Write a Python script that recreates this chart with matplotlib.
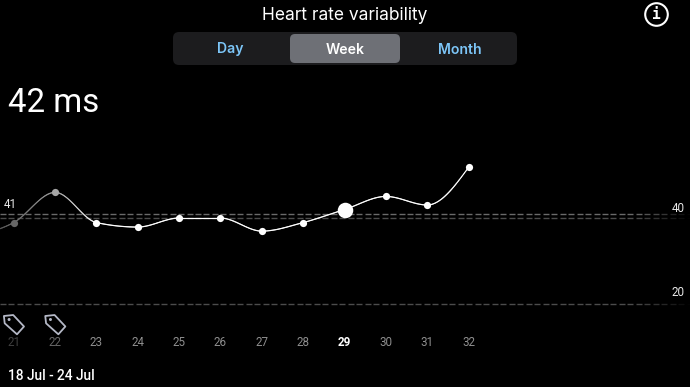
import numpy as np
import matplotlib
matplotlib.use("Agg")
import matplotlib.pyplot as plt
from matplotlib.collections import LineCollection
from matplotlib.patches import FancyBboxPatch, Circle, Polygon

# ---------- data ----------
days = [20, 21, 22, 23, 24, 25, 26, 27, 28, 29, 30, 31, 32]
hrv = [35.0, 38.1, 44.8, 38.1, 37.1, 39.1, 39.1, 36.2, 38.1, 41.0, 43.9, 42.0, 50.4]
tick_days = [21, 22, 23, 24, 25, 26, 27, 28, 29, 30, 31, 32]
tagged_days = [21, 22]
selected_day = 29
grid_values = [40, 20]
average_value = 39.1
tabs = ["Day", "Week", "Month"]
title = "Heart rate variability"
headline = "42 ms"
date_range = "18 Jul - 24 Jul"
first_label = "41"

W, H = 690, 387
PX_DAY = 41.36
PX_UNIT = 4.5
X0 = 13.7
Y40 = 214

fig = plt.figure(figsize=(W / 100, H / 100), dpi=100, facecolor="black")

ax = fig.add_axes([0, 0, 1, 1], facecolor="black")
ax.set_xlim(21 - X0 / PX_DAY, 21 + (W - X0) / PX_DAY)
ax.set_ylim(40 - (H - Y40) / PX_UNIT, 40 + Y40 / PX_UNIT)
ax.axis("off")

ui = fig.add_axes([0, 0, 1, 1], facecolor="none")
ui.set_xlim(0, W)
ui.set_ylim(H, 0)
ui.axis("off")

font = ["Inter", "DejaVu Sans"]
din = ["Roboto", "DejaVu Sans"]


def fade_dashes(y, base, dash=0.145, gap=0.06):
    xmin, xmax = ax.get_xlim()
    starts = np.arange(xmin, xmax, dash + gap)
    segs = [[(s, y), (s + dash, y)] for s in starts]
    cols = [(1, 1, 1, base * np.clip((xmax - s) / 1.4, 0, 1)) for s in starts]
    ax.add_collection(LineCollection(segs, colors=cols, linewidths=1.0, zorder=1))


fade_dashes(grid_values[0], 0.42)
fade_dashes(average_value, 0.30)
fade_dashes(grid_values[1], 0.30)


# monotone cubic curve through the points
def monotone(x, y, n=40):
    x, y = np.asarray(x, float), np.asarray(y, float)
    h = np.diff(x)
    s = np.diff(y) / h
    t = np.zeros_like(y)
    for i in range(1, len(y) - 1):
        p = (s[i - 1] * h[i] + s[i] * h[i - 1]) / (h[i - 1] + h[i])
        t[i] = (np.sign(s[i - 1]) + np.sign(s[i])) * min(abs(s[i - 1]), abs(s[i]), 0.5 * abs(p))
    t[0] = (3 * s[0] - t[1]) / 2
    t[-1] = (3 * s[-1] - t[-2]) / 2
    xs, ys = [], []
    for i in range(len(h)):
        u = np.linspace(0, 1, n, endpoint=False)
        xs.append(x[i] + u * h[i])
        ys.append((2*u**3 - 3*u**2 + 1) * y[i] + (u**3 - 2*u**2 + u) * h[i] * t[i]
                  + (-2*u**3 + 3*u**2) * y[i + 1] + (u**3 - u**2) * h[i] * t[i + 1])
    xs.append(x[-1:])
    ys.append(y[-1:])
    return np.concatenate(xs), np.concatenate(ys)


cx, cy = monotone(days, hrv)
pts = np.column_stack([cx, cy]).reshape(-1, 1, 2)
segs = np.concatenate([pts[:-1], pts[1:]], axis=1)
grey = np.interp(cx[:-1], [20.6, 21, 22, 23], [0.32, 0.42, 0.62, 1.0])
ax.add_collection(LineCollection(segs, colors=[(g, g, g, 1) for g in grey], linewidths=0.85,
                                 capstyle="round", zorder=3))

pt_grey = np.interp(days, [21, 22, 23], [0.40, 0.65, 1.0])
for d, v, g in zip(days, hrv, pt_grey):
    big = d == selected_day
    ax.scatter([d], [v], s=125 if big else 27, color=(g, g, g), linewidths=0, zorder=4)

# right-hand grid labels
for v, py in zip(grid_values, [208, 293]):
    ui.text(678.5, py, str(v), color="#e8e8e8", fontsize=8.4, family=din, ha="center", va="center")
ui.text(10, 204, first_label, color="#e8e8e8", fontsize=8.4, family=din, ha="center", va="center")

# day labels
for d in tick_days:
    col = {21: "#3f3f3f", 22: "#666666", selected_day: "#ffffff"}.get(d, "#8e8e8e")
    ax.annotate(str(d), (d, 0), xycoords=("data", "axes fraction"), xytext=(0, (H - 343) * 0.72),
                textcoords="offset points", color=col, fontsize=8.4, family=din, ha="center", va="center",
                fontweight="bold" if d == selected_day else "normal")

# tags
tag_shape = np.array([(-9.8, 1.0), (-0.5, 0.0), (10.3, 11.5), (3.3, 19.3), (-9.0, 8.3)])
for d in tagged_days:
    ox = X0 + (d - 21) * PX_DAY
    tag = np.column_stack([tag_shape[:, 0] + ox, tag_shape[:, 1] + 315])
    ui.add_patch(Polygon(tag, closed=True, fill=False, edgecolor="#b4b8c6", linewidth=1.3, joinstyle="round"))
    ui.add_patch(Circle((ox - 4.6, 319.5), 1.5, color="#b4b8c6", linewidth=0))

# header
ui.text(345, 15, title, color="white", fontsize=12.5, family=font, ha="center", va="center")
ui.add_patch(FancyBboxPatch((173, 32), 344, 33, boxstyle="round,pad=0,rounding_size=6",
                            facecolor="#1c1c1e", edgecolor="none", linewidth=0))
ui.add_patch(FancyBboxPatch((290, 34), 110, 29, boxstyle="round,pad=0,rounding_size=5",
                            facecolor="#6e7076", edgecolor="none", linewidth=0))
for label, x, col in zip(tabs, [230, 345, 460], ["#7cc5f7", "#ffffff", "#7cc5f7"]):
    ui.text(x, 49.5, label, color=col, fontsize=10.1, family=font, fontweight="semibold", ha="center", va="center")

# info icon
ui.add_patch(Circle((656.5, 14.5), 11.3, fill=False, edgecolor="white", linewidth=1.5))
ui.text(656.5, 14.5, "i", color="white", fontsize=10.5, family=["DejaVu Sans Mono"], fontweight="bold",
        ha="center", va="center")

ui.text(8, 103.5, headline, color="white", fontsize=23.8, family=din, ha="left", va="center")
ui.text(8, 375.5, date_range, color="white", fontsize=9.9, family=din, fontweight="medium", ha="left", va="center")

fig.savefig("out.png", dpi=100, facecolor="black")
